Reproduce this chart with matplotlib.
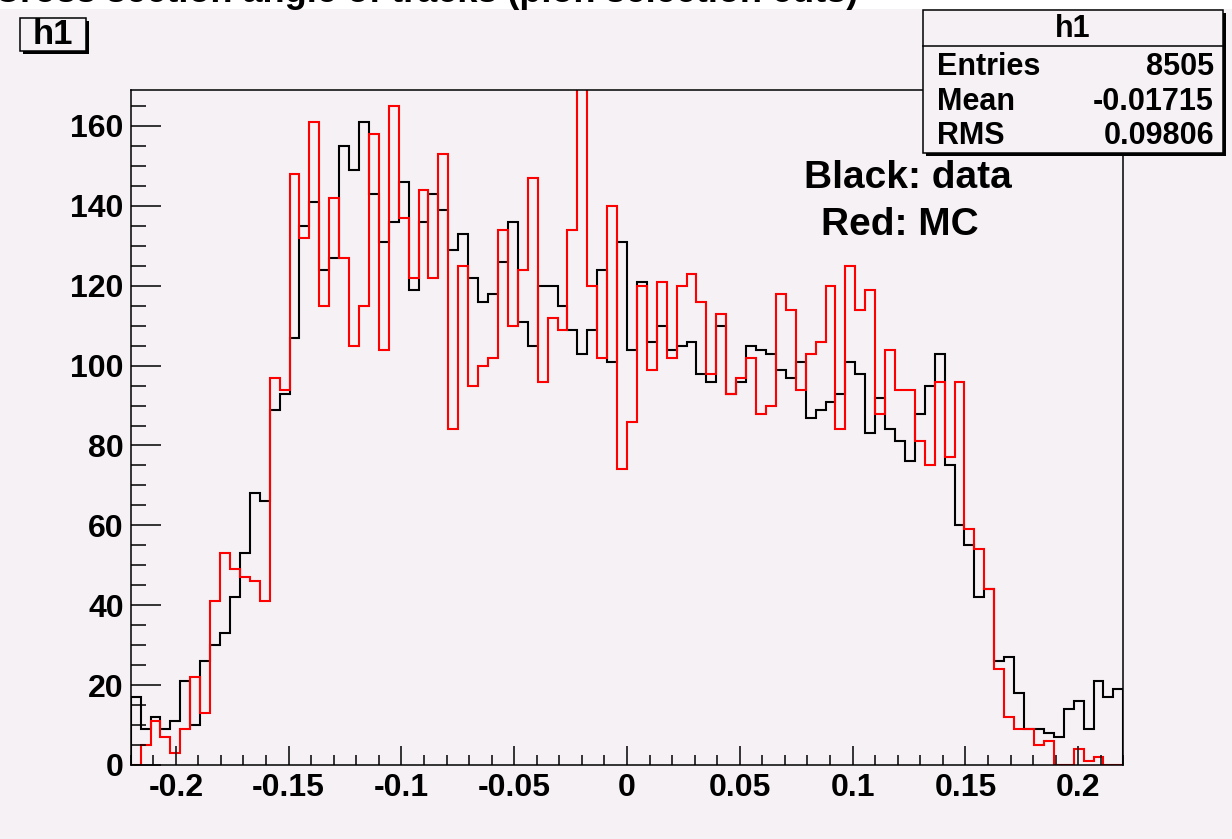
import numpy as np
import matplotlib
matplotlib.use("Agg")
import matplotlib.pyplot as plt
from matplotlib.patches import Rectangle
from matplotlib.lines import Line2D
from matplotlib.ticker import MultipleLocator

plt.rcParams['font.family'] = ['Liberation Sans', 'DejaVu Sans']

# histogram binning (100 bins)
x_lo = -0.22
x_hi = 0.22
n_bins = 100

# black: data
data_counts = [17, 9, 12, 9, 11, 21, 10, 26, 30, 33,
               42, 53, 68, 66, 89, 93, 107, 135, 141, 124,
               127, 155, 149, 161, 143, 131, 136, 146, 119, 136,
               143, 139, 129, 133, 122, 116, 118, 126, 136, 111,
               105, 120, 120, 115, 109, 103, 109, 124, 101, 131,
               104, 121, 106, 110, 104, 105, 106, 98, 96, 110,
               93, 96, 105, 104, 103, 99, 97, 101, 87, 89,
               91, 93, 101, 98, 83, 92, 84, 81, 76, 88,
               95, 103, 75, 60, 55, 42, 44, 26, 27, 18,
               9, 9, 8, 7, 14, 16, 9, 21, 17, 19]

# red: MC
mc_counts = [0, 5, 11, 7, 3, 9, 22, 13, 41, 53,
             49, 47, 46, 41, 97, 94, 148, 132, 161, 115,
             142, 127, 105, 115, 158, 104, 165, 137, 122, 144,
             122, 153, 84, 125, 95, 100, 102, 134, 110, 124,
             147, 96, 112, 109, 134, 175, 120, 102, 140, 74,
             86, 120, 99, 121, 102, 120, 123, 116, 98, 113,
             93, 97, 102, 88, 90, 118, 114, 94, 103, 106,
             120, 84, 125, 114, 119, 88, 104, 94, 94, 81,
             75, 96, 77, 96, 59, 54, 44, 24, 12, 9,
             9, 5, 6, 0, 0, 4, 1, 2, 0, 0]

x_ticks = [-0.2, -0.15, -0.1, -0.05, 0, 0.05, 0.1, 0.15, 0.2]
x_tick_labels = ["-0.2", "-0.15", "-0.1", "-0.05", "0", "0.05", "0.1", "0.15", "0.2"]
y_ticks = [0, 20, 40, 60, 80, 100, 120, 140, 160]
y_max = 169

stats_names = ["Entries", "Mean", "RMS"]
stats_values = ["8505", "-0.01715", "0.09806"]

W, H = 1232, 839
bg = '#f5f1f5'


def fx(px):
    return px / W


def fy(py):
    return 1 - py / H


fig = plt.figure(figsize=(W / 100, H / 100), dpi=100)
fig.patch.set_facecolor('white')
# pad background (top strip stays white)
fig.patches.append(Rectangle((0, 0), 1, fy(9), transform=fig.transFigure,
                             facecolor=bg, edgecolor='none', zorder=-10))

# title, mostly cut off at the top edge
fig.text(fx(-6), fy(1.5), "Cross section angle of tracks (pion selection cuts)",
         fontsize=26, fontweight='bold', ha='left', va='baseline')

ax = fig.add_axes([fx(130.7), fy(765), fx(1123.3) - fx(130.7), fy(90) - fy(765)])
ax.set_facecolor(bg)

edges = np.linspace(x_lo, x_hi, n_bins + 1)
ax.stairs(data_counts, edges, color='black', linewidth=1.5)
ax.stairs(mc_counts, edges, color='red', linewidth=1.5)

ax.set_xlim(x_lo, x_hi)
ax.set_ylim(0, y_max)

ax.set_xticks(x_ticks)
ax.set_xticklabels(x_tick_labels, fontsize=23, fontweight='bold')
ax.set_yticks(y_ticks)
ax.set_yticklabels([str(v) for v in y_ticks], fontsize=23, fontweight='bold')
ax.xaxis.set_minor_locator(MultipleLocator(0.01))
ax.yaxis.set_minor_locator(MultipleLocator(5))

ax.tick_params(axis='x', which='major', direction='in', length=14, width=1.1,
               top=False, pad=6)
ax.tick_params(axis='x', which='minor', direction='in', length=7, width=1.1, top=False)
ax.tick_params(axis='y', which='major', direction='in', length=21.5, width=1.1,
               right=False, pad=5)
ax.tick_params(axis='y', which='minor', direction='in', length=10.8, width=1.1, right=False)
for s in ax.spines.values():
    s.set_linewidth(1.1)

# legend-ish text
fig.text(fx(908), fy(188), "Black: data", fontsize=28, fontweight='bold',
         ha='center', va='baseline')
fig.text(fx(900), fy(235), "Red: MC", fontsize=28, fontweight='bold',
         ha='center', va='baseline')


def root_box(x0, y0, x1, y1, shadow=3):
    fig.patches.append(Rectangle((fx(x0 + shadow), fy(y1 + shadow)),
                                 fx(x1) - fx(x0), fy(y0) - fy(y1),
                                 transform=fig.transFigure, facecolor='black',
                                 edgecolor='none', zorder=5))
    fig.patches.append(Rectangle((fx(x0), fy(y1)), fx(x1) - fx(x0), fy(y0) - fy(y1),
                                 transform=fig.transFigure, facecolor=bg,
                                 edgecolor='black', linewidth=1.1, zorder=6))


# title box "h1"
root_box(20, 18, 86, 51)
fig.text(fx(53), fy(35), "h1", fontsize=25, fontweight='bold',
         ha='center', va='center', zorder=7)

# stats box
root_box(923, 10, 1223, 153)
fig.lines.append(Line2D([fx(923), fx(1223)], [fy(46), fy(46)],
                        transform=fig.transFigure, color='black', linewidth=1.1, zorder=7))
fig.text(fx(1073), fy(29), "h1", fontsize=22, fontweight='bold',
         ha='center', va='center', zorder=7)
row_y = [67, 102, 136]
for name, val, ry in zip(stats_names, stats_values, row_y):
    fig.text(fx(937), fy(ry), name, fontsize=22, fontweight='bold',
             ha='left', va='center', zorder=7)
    fig.text(fx(1214), fy(ry), val, fontsize=22, fontweight='bold',
             ha='right', va='center', zorder=7)

fig.savefig("out.png", dpi=100, facecolor=fig.get_facecolor())
